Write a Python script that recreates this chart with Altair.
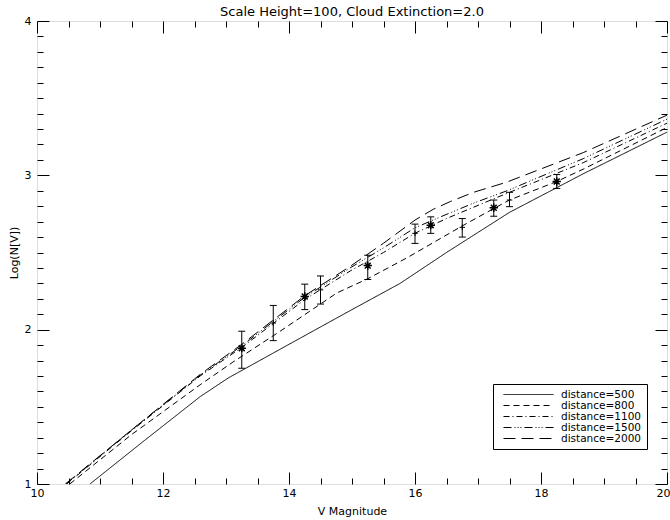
import altair as alt
import pandas as pd

# ---- model curves (V magnitude, log N) ----
series_names = ["distance=500", "distance=800", "distance=1100", "distance=1500", "distance=2000"]

x500 = [10.84, 11.7, 12.59, 13.04, 14.0, 15.0, 15.76, 16.5, 17.5, 18.67, 20.0]
y500 = [1.0, 1.28, 1.566, 1.688, 1.905, 2.13, 2.299, 2.50, 2.76, 3.01, 3.28]

x800 = [10.52, 11.5, 12.59, 13.11, 13.86, 14.76, 15.25, 15.87, 16.74, 17.25, 17.5, 18.25, 18.67, 20.0]
y800 = [1.0, 1.32, 1.643, 1.79, 1.99, 2.238, 2.33, 2.465, 2.67, 2.785, 2.84, 2.96, 3.04, 3.31]

x1100 = [10.47, 11.5, 12.59, 13.25, 14.25, 14.97, 15.5, 16.0, 16.5, 17.35, 18.67, 20.0]
y1100 = [1.0, 1.345, 1.70, 1.885, 2.195, 2.38, 2.50, 2.625, 2.72, 2.865, 3.082, 3.338]

x1500 = [10.46, 11.5, 12.59, 13.25, 14.25, 14.97, 15.5, 16.0, 16.4, 16.93, 17.46, 18.67, 20.0]
y1500 = [1.0, 1.35, 1.705, 1.895, 2.21, 2.40, 2.53, 2.66, 2.73, 2.82, 2.90, 3.108, 3.364]

x2000 = [10.45, 11.5, 12.59, 13.25, 14.25, 14.97, 15.5, 16.0, 16.29, 16.56, 16.93, 17.45, 18.67, 20.0]
y2000 = [1.0, 1.35, 1.71, 1.905, 2.22, 2.41, 2.56, 2.71, 2.78, 2.83, 2.89, 2.955, 3.147, 3.39]

# ---- observed counts with error bars ----
star_x = [13.25, 14.25, 15.25, 16.25, 17.25, 18.25]
star_y = [1.88, 2.215, 2.415, 2.677, 2.79, 2.96]
star_lo = [1.75, 2.13, 2.325, 2.624, 2.735, 2.915]
star_hi = [1.99, 2.295, 2.482, 2.731, 2.84, 3.005]

plus_x = [13.75, 14.5, 16.0, 16.75, 17.5]
plus_y = [2.043, 2.258, 2.624, 2.663, 2.84]
plus_lo = [1.929, 2.166, 2.559, 2.60, 2.797]
plus_hi = [2.157, 2.348, 2.684, 2.72, 2.89]

# ---- axes ticks ----
x_major = [10, 12, 14, 16, 18, 20]
y_major = [1, 2, 3, 4]
x_minor = [10 + 0.5 * i for i in range(1, 20) if i % 4 != 0]
y_minor = [round(1 + 0.1 * i, 1) for i in range(1, 30) if i % 10 != 0]

dashes = [[1, 0], [6, 4], [6, 3, 1, 3], [8, 3, 1, 2, 1, 2, 1, 3], [12, 6]]

rows = []
for name, xs, ys in zip(series_names, [x500, x800, x1100, x1500, x2000],
                        [y500, y800, y1100, y1500, y2000]):
    for i, (a, b) in enumerate(zip(xs, ys)):
        rows.append({"series": name, "order": i, "V": a, "logN": b})
lines_df = pd.DataFrame(rows)

pts_df = pd.DataFrame({
    "V": star_x + plus_x,
    "logN": star_y + plus_y,
    "lo": star_lo + plus_lo,
    "hi": star_hi + plus_hi,
    "kind": ["star"] * len(star_x) + ["plus"] * len(plus_x),
})

FONT = "DejaVu Sans"
xscale = alt.Scale(domain=[10, 20], nice=False, zero=False)
yscale = alt.Scale(domain=[1, 4], nice=False, zero=False)

common_axis = dict(domain=False, grid=False, tickColor="black", tickWidth=1,
                   labelFont=FONT, labelFontSize=11, labelColor="black",
                   titleFont=FONT, titleFontSize=11, titleColor="black",
                   titleFontWeight="normal")


def ax(orient, values, major, labels=False, title=None, **kw):
    size = 12 if major else 6
    args = dict(common_axis)
    args.update(kw)
    return alt.Axis(orient=orient, values=values, tickSize=size, offset=-size,
                    labels=labels, title=title, **args)


legend_path = "M-1,0H9"

lines = alt.Chart(lines_df).mark_line(color="black", strokeWidth=1, clip=True).encode(
    x=alt.X("V:Q", scale=xscale,
            axis=ax("bottom", x_major, True, labels=True, title="V Magnitude",
                    format="d", labelPadding=3, titlePadding=7, labelFlush=False,
                    labelAlign=alt.ExprRef("datum.value == 20 ? 'right' : 'center'"),
                    labelOffset=alt.ExprRef("datum.value == 20 ? 3 : 0"))),
    y=alt.Y("logN:Q", scale=yscale,
            axis=ax("left", y_major, True, labels=True, title="Log(N[V])",
                    format="d", labelPadding=6, titlePadding=5, labelFlush=False)),
    strokeDash=alt.StrokeDash(
        "series:N",
        scale=alt.Scale(domain=series_names, range=dashes),
        legend=alt.Legend(orient="none", legendX=456, legendY=363, title=None,
                          symbolType=legend_path, symbolSize=100,
                          symbolStrokeColor="black", symbolStrokeWidth=1,
                          symbolFillColor="transparent",
                          labelFont=FONT, labelFontSize=10.5, labelColor="black",
                          labelOffset=47, fillColor="white", strokeColor="black",
                          padding=5, rowPadding=0, symbolOffset=5)),
    order="order:Q",
)

rules = alt.Chart(pts_df).mark_rule(color="black", strokeWidth=1).encode(
    x=alt.X("V:Q", scale=xscale, axis=ax("bottom", x_minor, False)),
    y=alt.Y("lo:Q", scale=yscale, axis=ax("left", y_minor, False)),
    y2="hi:Q",
)

caps_lo = alt.Chart(pts_df).mark_tick(color="black", orient="horizontal", size=7,
                                      thickness=1, opacity=1).encode(
    x=alt.X("V:Q", scale=xscale, axis=ax("top", x_major, True)),
    y=alt.Y("lo:Q", scale=yscale, axis=ax("right", y_major, True)),
)

caps_hi = alt.Chart(pts_df).mark_tick(color="black", orient="horizontal", size=7,
                                      thickness=1, opacity=1).encode(
    x=alt.X("V:Q", scale=xscale, axis=ax("top", x_minor, False)),
    y=alt.Y("hi:Q", scale=yscale, axis=ax("right", y_minor, False)),
)

star_shape = "M0,-1V1M-1,0H1M-0.7,-0.7L0.7,0.7M-0.7,0.7L0.7,-0.7"
plus_shape = "M0,-1V1M-1,0H1"

stars = alt.Chart(pts_df).transform_filter(alt.datum.kind == "star").mark_point(
    shape=star_shape, size=70, filled=False, stroke="black", strokeWidth=1.5, opacity=1
).encode(
    x=alt.X("V:Q", scale=xscale, axis=None),
    y=alt.Y("logN:Q", scale=yscale, axis=None),
)

pluses = alt.Chart(pts_df).transform_filter(alt.datum.kind == "plus").mark_point(
    shape=plus_shape, size=30, filled=False, stroke="black", strokeWidth=1, opacity=1
).encode(
    x=alt.X("V:Q", scale=xscale, axis=None),
    y=alt.Y("logN:Q", scale=yscale, axis=None),
)

chart = alt.layer(lines, rules, caps_lo, caps_hi, stars, pluses).resolve_axis(
    x="independent", y="independent"
).properties(
    width=630, height=463,
    padding={"left": 37, "top": 21, "right": 3, "bottom": 36},
    autosize=alt.AutoSizeParams(type="none"),
    title=alt.TitleParams("Scale Height=100, Cloud Extinction=2.0", font=FONT,
                          fontSize=13, fontWeight="normal", color="black",
                          anchor="middle", frame="group", offset=5, dy=9),
).configure_view(stroke="black", strokeWidth=1).configure(background="white")

chart.save("out.html", embed_options={"renderer": "svg", "actions": False})
